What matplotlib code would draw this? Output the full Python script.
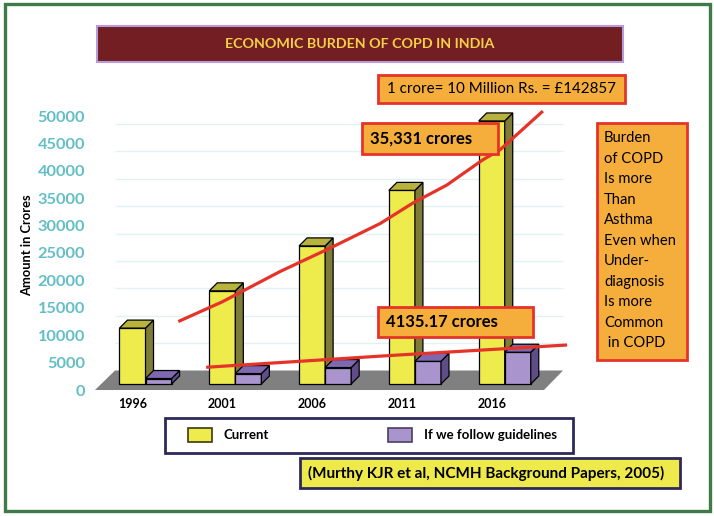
import matplotlib
matplotlib.use('Agg')
import matplotlib.pyplot as plt
from matplotlib.patches import Rectangle, Polygon, Patch
from matplotlib.transforms import ScaledTranslation
import numpy as np

# ---------------- data ----------------
years = ['1996', '2001', '2006', '2011', '2016']
current = [10200, 17000, 25200, 35331, 48000]
guidelines = [1000, 1900, 3000, 4135.17, 5800]
y_ticks = [0, 5000, 10000, 15000, 20000, 25000, 30000, 35000, 40000, 45000, 50000]

# trend lines (x in category units, y in crores)
trend_current_x = [0.51, 1.00, 1.64, 2.20, 2.76, 3.12, 3.50, 3.90, 4.09, 4.57]
trend_current_y = [11400, 15000, 20500, 24800, 29300, 33000, 36300, 40900, 42700, 49800]
trend_guide_x = [0.82, 2.87, 4.84]
trend_guide_y = [3050, 5200, 7120]

title = 'ECONOMIC BURDEN OF COPD IN INDIA'
note_rate = '1 crore= 10 Million Rs. = \u00a3142857'
note_current = '35,331 crores'
note_guide = '4135.17 crores'
note_side = ['Burden', 'of COPD', 'Is more', 'Than', 'Asthma', 'Even when',
             'Under-', 'diagnosis', 'Is more', 'Common', ' in COPD']
legend_labels = ['Current', 'If we follow guidelines']
citation = '(Murthy KJR et al, NCMH Background Papers, 2005)'
y_label = 'Amount in Crores'

# ---------------- style ----------------
plt.rcParams['font.family'] = ['Lato', 'DejaVu Sans']
W, H = 714, 516
fig = plt.figure(figsize=(7.14, 5.16), dpi=100)
fig.patch.set_facecolor('white')

def fx(px):
    return px / W

def fy(py):
    return 1 - py / H

PX_PER_CAT = 89.8
Y_PER_PX = 50000 / 274.0
X0_PX = 132.5      # pixel of category 0
Y0_PX = 384.0      # pixel of value 0

ax_l, ax_r, ax_t, ax_b = 95, 570, 100, 392
ax = fig.add_axes([fx(ax_l), fy(ax_b), (ax_r - ax_l) / W, (ax_b - ax_t) / H])
ax.set_xlim((ax_l - X0_PX) / PX_PER_CAT, (ax_r - X0_PX) / PX_PER_CAT)
ax.set_ylim(-(ax_b - Y0_PX) * Y_PER_PX, (Y0_PX - ax_t) * Y_PER_PX)
ax.patch.set_alpha(0)
for s in ax.spines.values():
    s.set_visible(False)

yellow_front, yellow_top, yellow_side = '#EEEB4D', '#B8B23E', '#7F7C38'
purple_front, purple_top, purple_side = '#A994CE', '#7E68B0', '#5F4D8A'
red = '#E6332A'
orange = '#F5AE3C'

ddx = 8 / PX_PER_CAT
ddy = 8 * Y_PER_PX

# back-wall gridlines
grid_off = ScaledTranslation(0, -14 / 100, fig.dpi_scale_trans)
ax.hlines(y_ticks[2:], (115 - X0_PX) / PX_PER_CAT, (563 - X0_PX) / PX_PER_CAT,
          colors='#E2F2F4', linewidth=1, zorder=0.5,
          transform=ax.transData + grid_off)

# floor
fl = lambda px: (px - X0_PX) / PX_PER_CAT
fv = lambda py: (Y0_PX - py) * Y_PER_PX
floor = Polygon([(fl(95), fv(390)), (fl(544), fv(390)), (fl(563), fv(370.5)),
                 (fl(115), fv(370.5))], closed=True, facecolor='#808080',
                edgecolor='none', zorder=1)
ax.add_patch(floor)

x = np.arange(len(years))
bw = 0.29
bars_c = ax.bar(x, current, width=bw, color=yellow_front, edgecolor='black',
                linewidth=0.9, zorder=2)
bars_g = ax.bar(x + bw, guidelines, width=bw, color=purple_front, edgecolor='black',
                linewidth=0.9, zorder=3)

def add_3d(rect, top_c, side_c, z):
    x0 = rect.get_x()
    x1 = x0 + rect.get_width()
    h = rect.get_height()
    top = Polygon([(x0, h), (x1, h), (x1 + ddx, h + ddy), (x0 + ddx, h + ddy)],
                  closed=True, facecolor=top_c, edgecolor='black', linewidth=0.9,
                  zorder=z)
    side = Polygon([(x1, 0), (x1 + ddx, ddy), (x1 + ddx, h + ddy), (x1, h)],
                   closed=True, facecolor=side_c, edgecolor='black', linewidth=0.9,
                   zorder=z)
    ax.add_patch(side)
    ax.add_patch(top)

for r in bars_c:
    add_3d(r, yellow_top, yellow_side, 2)
for r in bars_g:
    add_3d(r, purple_top, purple_side, 3)

# trend lines
ax.plot(trend_current_x, trend_current_y, color=red, linewidth=2.3, zorder=5,
        solid_capstyle='butt')
ax.plot(trend_guide_x, trend_guide_y, color=red, linewidth=2.3, zorder=5,
        solid_capstyle='butt')

# ticks
ax.set_yticks(y_ticks)
ax.set_yticklabels([str(v) for v in y_ticks], fontweight='bold')
ax.tick_params(axis='y', length=0, pad=7, labelcolor='#62BFC7', labelsize=11.8)
off = ScaledTranslation(0, -6 / 100, fig.dpi_scale_trans)
for lbl in ax.get_yticklabels():
    lbl.set_fontweight('bold')
    lbl.set_transform(lbl.get_transform() + off)

ax.set_xticks(x)
ax.set_xticklabels(years, fontweight='bold')
ax.tick_params(axis='x', length=0, pad=4, labelcolor='black', labelsize=9)

ax.set_ylabel(y_label, fontweight='bold', fontsize=9.3)
ax.yaxis.set_label_coords((33 - ax_l) / (ax_r - ax_l), (ax_b - 245) / (ax_b - ax_t))

# ---------------- boxes ----------------
def box(x0, y0, x1, y1, fc, ec, lw, z=2):
    r = Rectangle((fx(x0), fy(y1)), (x1 - x0) / W, (y1 - y0) / H,
                  transform=fig.transFigure, facecolor=fc, edgecolor=ec,
                  linewidth=lw, zorder=z)
    fig.add_artist(r)

# outer frame
box(4.5, 3.5, 709.5, 510.5, 'none', '#3E7B48', 2.4, z=1)

# title
box(97, 26, 623, 62, '#731E22', '#B39CD8', 1.5)
fig.text(fx(360), fy(44), title, ha='center', va='center', color='#F3D048',
         fontsize=10.3, fontweight='bold', zorder=4)

# rate note
box(378, 75, 625, 103, orange, red, 2.0)
fig.text(fx(501.5), fy(89), note_rate, ha='center', va='center', color='black',
         fontsize=10.9, zorder=4)

# current note
box(362, 123, 498, 154, orange, red, 2.0)
fig.text(fx(370), fy(138.5), note_current, ha='left', va='center', color='black',
         fontsize=12, fontweight='bold', zorder=4)

# guideline note
box(378, 307, 533, 337, orange, red, 2.0)
fig.text(fx(386), fy(322), note_guide, ha='left', va='center', color='black',
         fontsize=12, fontweight='bold', zorder=4)

# side note
box(597, 123, 687, 360, orange, red, 2.0)
for k, line in enumerate(note_side):
    fig.text(fx(604), fy(138.3 + 20.5 * k), line, ha='left', va='center',
             color='black', fontsize=10.6, zorder=4)

# legend (frame drawn as a separate box)
box(165, 418, 573, 453, 'white', '#2D2A5B', 2.0)
handles = [Patch(facecolor=yellow_front, edgecolor='#3A3A10', linewidth=1.2),
           Patch(facecolor=purple_front, edgecolor='#4A4060', linewidth=1.2)]
leg = fig.legend(handles=handles, labels=legend_labels, ncol=2,
                 loc='center left', bbox_to_anchor=(fx(188), fy(435)),
                 bbox_transform=fig.transFigure, frameon=False,
                 borderaxespad=0, borderpad=0, handlelength=1.82, handleheight=1.29,
                 handletextpad=0.9, columnspacing=9.0,
                 prop={'weight': 'bold', 'size': 9.5})
leg.set_zorder(5)

# citation
box(300, 458, 680, 488, '#EFEA4B', '#2D2A5B', 2.0)
fig.text(fx(308), fy(473), citation, ha='left', va='center', color='black',
         fontsize=11, fontweight='bold', zorder=4)

fig.savefig('out.png', dpi=100, facecolor='white')
